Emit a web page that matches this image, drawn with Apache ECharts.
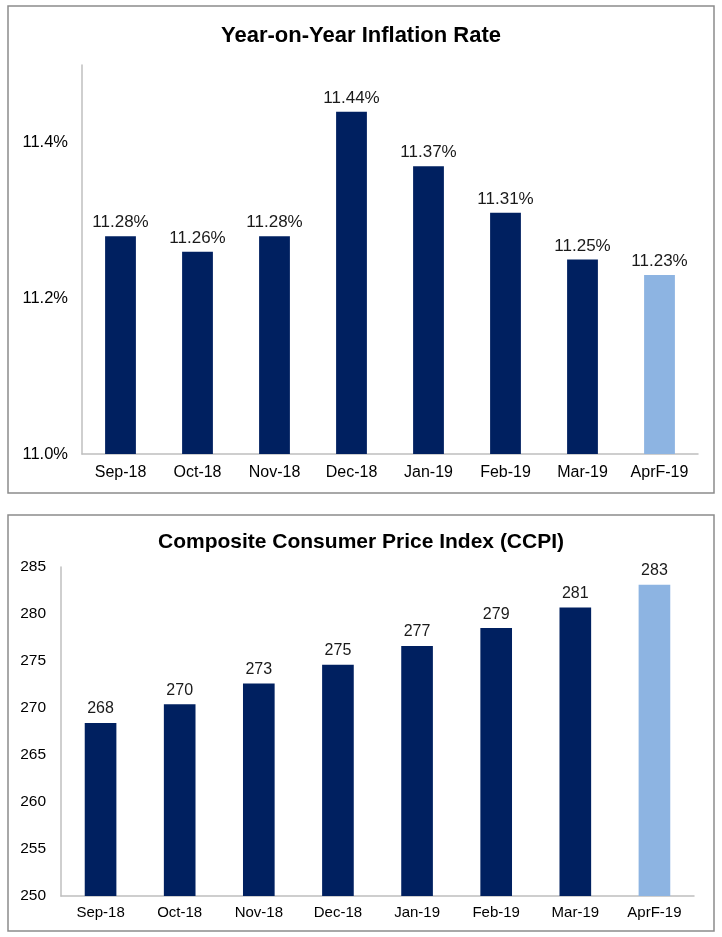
<!DOCTYPE html>
<html>
<head>
<meta charset="utf-8" />
<title>Inflation and CCPI</title>
<script src="https://cdn.jsdelivr.net/npm/echarts@6/dist/echarts.min.js"></script>
<style>
  html, body { margin: 0; padding: 0; background: #fff; }
  #main { width: 722px; height: 937px; }
</style>
</head>
<body>
<div id="main"></div>
<script>
  // data
  var months = ['Sep-18', 'Oct-18', 'Nov-18', 'Dec-18', 'Jan-19', 'Feb-19', 'Mar-19', 'AprF-19'];
  var inflation = [11.28, 11.26, 11.28, 11.44, 11.37, 11.31, 11.25, 11.23];
  var ccpi = [268.4, 270.4, 272.6, 274.6, 276.6, 278.5, 280.7, 283.1];
  var forecastIndex = 7; // last bar is the forecast

  var dark = '#002060';
  var light = '#8db4e2';
  var font = 'Liberation Sans, Arial, sans-serif';

  function colored(values) {
    return values.map(function (v, i) {
      return { value: v, itemStyle: { color: i === forecastIndex ? light : dark } };
    });
  }

  var chart = echarts.init(document.getElementById('main'));

  chart.setOption({
    animation: false,
    textStyle: { fontFamily: font },
    graphic: [
      { type: 'rect', shape: { x: 8, y: 6, width: 706, height: 487 },
        style: { fill: 'none', stroke: '#8c8c8c', lineWidth: 1.5 } },
      { type: 'rect', shape: { x: 8, y: 515, width: 706, height: 416 },
        style: { fill: 'none', stroke: '#8c8c8c', lineWidth: 1.5 } }
    ],
    title: [
      { text: 'Year-on-Year Inflation Rate', left: 'center', top: 20,
        textStyle: { fontFamily: font, fontSize: 22, fontWeight: 'bold', color: '#000' } },
      { text: 'Composite Consumer Price Index (CCPI)', left: 'center', top: 527,
        textStyle: { fontFamily: font, fontSize: 21, fontWeight: 'bold', color: '#000' } }
    ],
    grid: [
      { left: 82, right: 24, top: 65, bottom: 483 },
      { left: 61, right: 28, top: 567, bottom: 41 }
    ],
    xAxis: [
      { type: 'category', gridIndex: 0, data: months,
        axisLine: { lineStyle: { color: '#bfbfbf', width: 1.5 } },
        axisTick: { show: false },
        axisLabel: { color: '#000', fontSize: 16, margin: 11, fontFamily: font } },
      { type: 'category', gridIndex: 1, data: months,
        axisLine: { lineStyle: { color: '#bfbfbf', width: 1.5 } },
        axisTick: { show: false },
        axisLabel: { color: '#000', fontSize: 15, margin: 9, fontFamily: font } }
    ],
    yAxis: [
      { type: 'value', gridIndex: 0, min: 11.0, max: 11.5, interval: 0.2,
        axisLine: { show: true, lineStyle: { color: '#bfbfbf', width: 1.5 } },
        axisTick: { show: false },
        splitLine: { show: false },
        axisLabel: { color: '#000', fontSize: 16.5, margin: 14, fontFamily: font, showMaxLabel: false,
          formatter: function (v) { return v.toFixed(1) + '%'; } } },
      { type: 'value', gridIndex: 1, min: 250, max: 285, interval: 5,
        axisLine: { show: true, lineStyle: { color: '#bfbfbf', width: 1.5 } },
        axisTick: { show: false },
        splitLine: { show: false },
        axisLabel: { color: '#000', fontSize: 15.5, margin: 15, fontFamily: font } }
    ],
    series: [
      { type: 'bar', xAxisIndex: 0, yAxisIndex: 0, barWidth: '40%',
        data: colored(inflation),
        label: { show: true, position: 'top', distance: 5, color: '#1a1a1a', fontSize: 17, fontFamily: font,
          formatter: function (p) { return p.value.toFixed(2) + '%'; } } },
      { type: 'bar', xAxisIndex: 1, yAxisIndex: 1, barWidth: '40%',
        data: colored(ccpi),
        label: { show: true, position: 'top', distance: 6, color: '#1a1a1a', fontSize: 16, fontFamily: font,
          formatter: function (p) { return Math.round(p.value); } } }
    ]
  });

  window.onresize = function () {
    chart.resize();
  };
</script>
</body>
</html>
